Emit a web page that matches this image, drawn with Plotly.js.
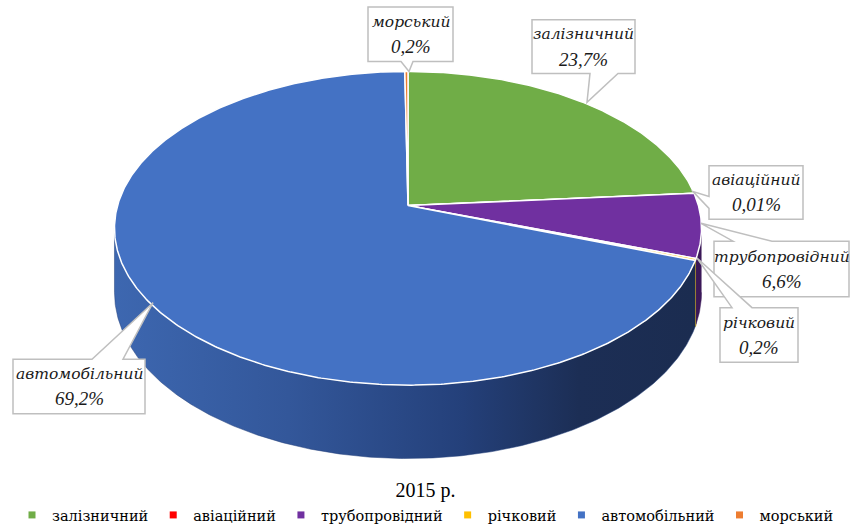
<!DOCTYPE html>
<html>
<head>
<meta charset="utf-8">
<script src="https://cdn.plot.ly/plotly-3.0.1.min.js"></script>
<style>html,body{margin:0;padding:0;background:#fff;}#chart{width:851px;height:531px;}</style>
</head>
<body>
<div id="chart"></div>
<script>
// ---- data ----
const categories = ['залізничний', 'авіаційний', 'трубопровідний', 'річковий', 'автомобільний', 'морський'];
const values = [23.7, 0.01, 6.6, 0.2, 69.2, 0.2];
const labelTexts = ['23,7%', '0,01%', '6,6%', '0,2%', '69,2%', '0,2%'];
const topColors = ['#70ad47', '#ff0000', '#7030a0', '#ffc000', '#4472c4', '#ed7d31'];
const wallColors = ['#4a7a2e', '#a00000', '#3b1858', '#7d6312', '#2a4680', '#a2561f'];
const chartTitle = '2015 р.';

const SERIF = "'DejaVu Serif', serif";
const SERIF_NUM = "'Liberation Serif', 'DejaVu Serif', serif";

// ---- 3D projection (pixel space axes) ----
const cx = 408, cy = 207, A = 290.4, B = 154.7, k = 0.1456, D = 63.2;
function proj(thetaDeg, depth) {
  const t = thetaDeg * Math.PI / 180;
  const X = Math.sin(t), Z = Math.cos(t);
  const w = 1 + k * Z;
  return [cx + A * X / w, cy + (-B * Z + D * depth) / w];
}
const total = values.reduce((a, b) => a + b, 0);
const starts = [], ends = [];
let acc = 0;
values.forEach(v => { starts.push(acc / total * 360); acc += v; ends.push(acc / total * 360); });

const sil1 = Math.acos(-k) * 180 / Math.PI;
const sil2 = 360 - sil1;
const traces = [];

// walls
categories.forEach((c, i) => {
  const a = Math.max(starts[i], sil1), b = Math.min(ends[i], sil2);
  if (b <= a) return;
  const xs = [], ys = [];
  const n = Math.max(2, Math.ceil((b - a) / 0.5));
  for (let j = 0; j <= n; j++) { const p = proj(a + (b - a) * j / n, 0); xs.push(p[0]); ys.push(p[1]); }
  for (let j = n; j >= 0; j--) { const p = proj(a + (b - a) * j / n, 1); xs.push(p[0]); ys.push(p[1]); }
  const tr = {
    type: 'scatter', mode: 'lines', x: xs, y: ys, fill: 'toself',
    fillcolor: wallColors[i], line: {width: 0.5, color: wallColors[i]},
    showlegend: false, hoverinfo: 'skip'
  };
  if (c === 'автомобільний') {
    tr.fillgradient = {type: 'horizontal', colorscale: [[0, '#3d67b0'], [0.3, '#33579a'], [0.6, '#24407a'], [0.8, '#1c2e55'], [1, '#1b2c50']]};
    tr.line = {width: 0.5, color: '#24407a'};
  }
  if (c === 'річковий') tr.line = {width: 1.2, color: '#c9a227'};
  traces.push(tr);
});

// top faces
categories.forEach((c, i) => {
  const a = starts[i], b = ends[i];
  const xs = [cx], ys = [cy];
  const n = Math.max(2, Math.ceil((b - a) / 0.5));
  for (let j = 0; j <= n; j++) { const p = proj(a + (b - a) * j / n, 0); xs.push(p[0]); ys.push(p[1]); }
  xs.push(cx); ys.push(cy);
  traces.push({
    type: 'scatter', mode: 'lines', x: xs, y: ys, fill: 'toself',
    fillcolor: topColors[i], line: {width: 1.5, color: '#ffffff'},
    showlegend: false, hoverinfo: 'skip', name: c
  });
});

// legend entries
categories.forEach((c, i) => {
  traces.push({
    type: 'scatter', mode: 'markers', x: [null], y: [null], name: c,
    marker: {symbol: 'square', size: 7, color: topColors[i]}, showlegend: true
  });
});

// callouts (box + tail), positions in pixel axes
const callouts = [
  {cat: 5, box: [368, 453, 7, 62], path: 'M368,7 L453,7 L453,62 L413,62 L409,72 L401,62 L368,62 Z'},
  {cat: 0, box: [532, 635, 20, 74], path: 'M532,20 L635,20 L635,74 L618,74 L587,103 L590,74 L532,74 Z'},
  {cat: 1, box: [709, 803, 167, 221], path: 'M709,167 L803,167 L803,221 L709,221 L709,210 L693,193 L709,198 Z'},
  {cat: 2, box: [714, 849, 243, 299], path: 'M714,243 L733,243 L701,225 L772,243 L849,243 L849,299 L714,299 Z'},
  {cat: 3, box: [720, 798, 310, 365], path: 'M720,310 L732,310 L697,260 L752,310 L798,310 L798,365 L720,365 Z'},
  {cat: 4, box: [13, 145, 362, 417], path: 'M13,362 L92,362 L153,305 L123,362 L145,362 L145,417 L13,417 Z'}
];
const shapes = callouts.map(c => ({
  type: 'path', path: c.path, xref: 'x', yref: 'y', layer: 'above',
  line: {color: '#bfbfbf', width: 1.5}, fillcolor: '#ffffff'
}));
const annotations = [];
callouts.forEach(c => {
  const mx = (c.box[0] + c.box[1]) / 2, my = (c.box[2] + c.box[3]) / 2;
  annotations.push({
    xref: 'x', yref: 'y', x: mx, y: my - 12.5, text: '<i>' + categories[c.cat] + '</i>', showarrow: false,
    xanchor: 'center', yanchor: 'middle', font: {family: SERIF, size: 15.5, color: '#1a1a1a'}
  });
  annotations.push({
    xref: 'x', yref: 'y', x: mx, y: my + 12.5, text: '<i>' + labelTexts[c.cat] + '</i>', showarrow: false,
    xanchor: 'center', yanchor: 'middle', font: {family: SERIF_NUM, size: 19, color: '#1a1a1a'}
  });
});

const layout = {
  width: 851, height: 531,
  margin: {l: 0, r: 0, t: 0, b: 0},
  paper_bgcolor: '#ffffff', plot_bgcolor: '#ffffff',
  xaxis: {range: [0, 851], visible: false, fixedrange: true},
  yaxis: {range: [531, 0], visible: false, fixedrange: true},
  title: {text: chartTitle, x: 0.5, xanchor: 'center', y: 1 - 490 / 531, yanchor: 'middle',
          font: {family: SERIF_NUM, size: 20, color: '#000000'}},
  showlegend: true,
  legend: {orientation: 'h', x: 0.5, xanchor: 'center', y: 1 - 519 / 531, yanchor: 'middle',
           font: {family: SERIF, size: 14.5, color: '#000000'}, itemclick: false, itemdoubleclick: false},
  shapes: shapes,
  annotations: annotations
};
Plotly.newPlot('chart', traces, layout, {displayModeBar: false, staticPlot: true});
</script>
</body>
</html>
